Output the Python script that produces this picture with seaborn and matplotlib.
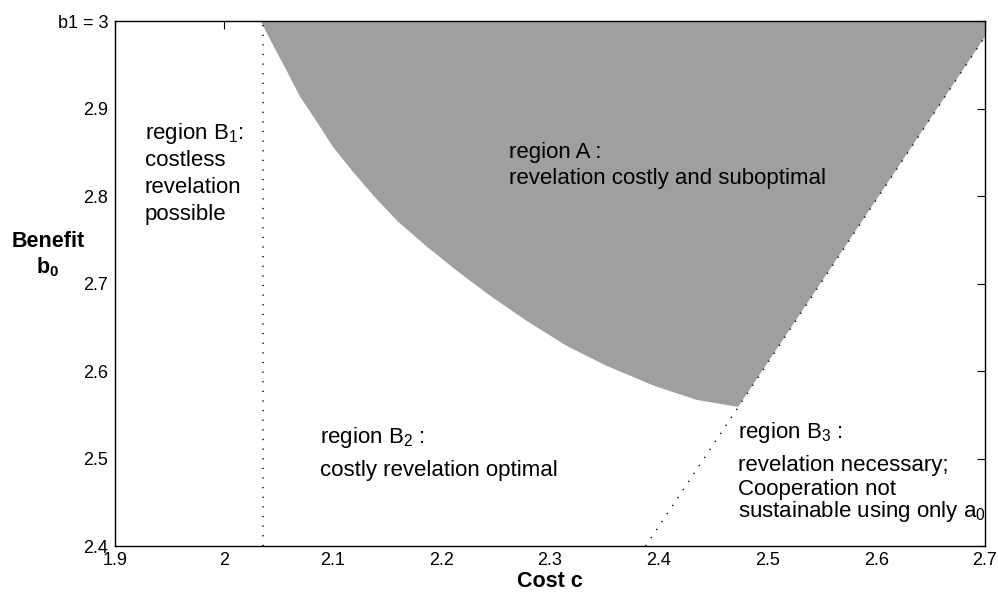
import matplotlib
matplotlib.use("Agg")
import matplotlib.pyplot as plt
import seaborn as sns

# boundary of region A (left curve)
curve_c = [2.034, 2.046, 2.058, 2.070, 2.085, 2.100, 2.118, 2.138, 2.160,
           2.186, 2.215, 2.245, 2.279, 2.315, 2.352, 2.396, 2.435, 2.473]
curve_b = [3.000, 2.971, 2.943, 2.914, 2.886, 2.857, 2.829, 2.800, 2.771,
           2.743, 2.714, 2.686, 2.657, 2.629, 2.606, 2.583, 2.567, 2.559]
# right edge of region A follows the dotted diagonal
right_c = [2.473, 2.700, 2.700]
right_b = [2.559, 2.982, 3.000]

# dotted boundaries
vert_c = [2.036, 2.036]
vert_b = [2.400, 3.000]
diag_c = [2.388, 2.700]
diag_b = [2.400, 2.982]

xticks = [1.9, 2.0, 2.1, 2.2, 2.3, 2.4, 2.5, 2.6, 2.7]
xtick_labels = ['1.9', '2', '2.1', '2.2', '2.3', '2.4', '2.5', '2.6', '2.7']
yticks = [2.4, 2.5, 2.6, 2.7, 2.8, 2.9, 3.0]
ytick_labels = ['2.4', '2.5', '2.6', '2.7', '2.8', '2.9', 'b1 = 3']

sns.set_style('white')
plt.rcParams['font.family'] = ['Liberation Sans', 'DejaVu Sans']
plt.rcParams['mathtext.fontset'] = 'custom'
plt.rcParams['mathtext.rm'] = 'Liberation Sans'
plt.rcParams['mathtext.it'] = 'Liberation Sans:italic'
plt.rcParams['mathtext.bf'] = 'Liberation Sans:bold'
plt.rcParams['text.color'] = 'black'
plt.rcParams['axes.labelcolor'] = 'black'

fig = plt.figure(figsize=(9.98, 5.94), dpi=100)
ax = fig.add_axes([0.1152, 0.0808, 0.8717, 0.8838])

# gray region A
ax.fill(curve_c + right_c, curve_b + right_b, color='#9f9f9f', lw=0, zorder=1)

dots = (0, (0.8, 5.5))
sns.lineplot(x=vert_c, y=vert_b, ax=ax, color='black', lw=1.1, linestyle=dots,
             estimator=None, sort=False, zorder=2)
sns.lineplot(x=diag_c, y=diag_b, ax=ax, color='black', lw=1.1, linestyle=dots,
             estimator=None, sort=False, zorder=2)

ax.set_xlim(1.9, 2.7)
ax.set_ylim(2.4, 3.0)
ax.set_xticks(xticks)
ax.set_xticklabels(xtick_labels)
ax.set_yticks(yticks)
ax.set_yticklabels(ytick_labels)
ax.tick_params(direction='in', top=True, right=True, length=6, width=0.8,
               labelsize=13, colors='black')
ax.tick_params(axis='y', pad=5)
ax.tick_params(axis='x', pad=4)
for s in ax.spines.values():
    s.set_linewidth(1.0)
    s.set_color('black')
    s.set_zorder(5)

ax.set_xlabel('Cost c', fontsize=15.5, fontweight='bold', labelpad=2)
ax.set_ylabel('Benefit\n$\\mathbf{b_0}$', fontsize=15.5, fontweight='bold',
              rotation=0, ha='center', va='center', multialignment='center')
ax.yaxis.set_label_coords(-0.077, 0.554)

fs = 16
# region B1
ax.text(1.9276, 2.8651, 'region B$_1$:', fontsize=fs, va='baseline')
ax.text(1.9276, 2.8343, 'costless', fontsize=fs, va='baseline')
ax.text(1.9276, 2.8034, 'revelation', fontsize=fs, va='baseline')
ax.text(1.9276, 2.7726, 'possible', fontsize=fs, va='baseline')
# region A
ax.text(2.2619, 2.8434, 'region A :', fontsize=fs, va='baseline')
ax.text(2.2619, 2.8137, 'revelation costly and suboptimal', fontsize=fs, va='baseline')
# region B2
ax.text(2.0888, 2.5177, 'region B$_2$ :', fontsize=fs, va='baseline')
ax.text(2.0888, 2.4800, 'costly revelation optimal', fontsize=fs, va='baseline')
# region B3
ax.text(2.4727, 2.5234, 'region B$_3$ :', fontsize=fs, va='baseline')
ax.text(2.4727, 2.4857, 'revelation necessary;', fontsize=fs, va='baseline')
ax.text(2.4727, 2.4331, 'Cooperation not\nsustainable using only a$_0$', fontsize=fs,
        va='baseline', linespacing=0.92)

fig.savefig('out.png', dpi=100)
